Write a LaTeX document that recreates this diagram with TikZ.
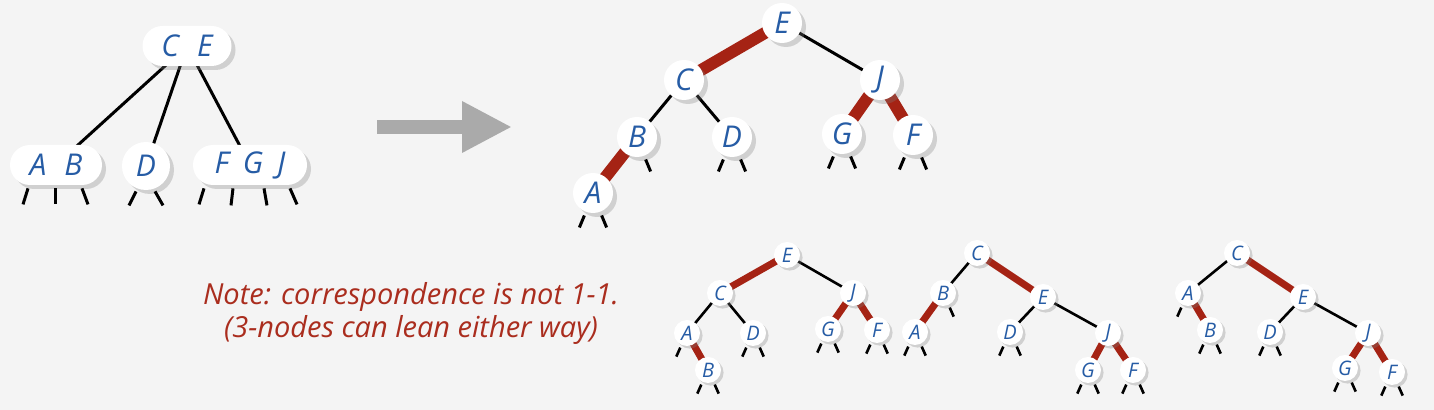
\documentclass[tikz,border=0pt]{standalone}
\usepackage{fontspec}
\setsansfont{Open Sans}
\usetikzlibrary{shadows,arrows.meta,calc}
\pgfdeclarelayer{bg}\pgfdeclarelayer{edges}\pgfsetlayers{bg,edges,main}
\definecolor{lblue}{RGB}{38,92,165}
\definecolor{lred}{RGB}{165,35,20}
\definecolor{nred}{RGB}{170,45,30}
\definecolor{bgc}{RGB}{244,244,244}
\definecolor{agray}{RGB}{170,170,170}
\newcommand\bstubL[1]{\draw[bblk] (#1.-115) ++(0,4) -- ++(-5,12);}
\newcommand\bstubR[1]{\draw[bblk] (#1.-65) ++(0,4) -- ++(5,12);}
\newcommand\sstubL[1]{\draw[sblk] (#1.-120) ++(0,3) -- ++(-4,9);}
\newcommand\sstubR[1]{\draw[sblk] (#1.-60) ++(0,3) -- ++(4,9);}
\begin{document}
\begin{tikzpicture}[x=0.5pt,y=-0.5pt,
  bnode/.style={circle,fill=white,minimum size=20pt,inner sep=0pt,
    font=\sffamily\itshape\fontsize{15}{15}\selectfont,text=lblue,
    drop shadow={opacity=0.3,shadow xshift=2pt,shadow yshift=-2pt}},
  snode/.style={circle,fill=white,minimum size=13pt,inner sep=0pt,
    font=\sffamily\itshape\fontsize{10}{10}\selectfont,text=lblue,
    drop shadow={opacity=0.3,shadow xshift=1.3pt,shadow yshift=-1.3pt}},
  pill/.style={rectangle,rounded corners=10pt,fill=white,minimum height=20pt,inner sep=0pt,
    font=\sffamily\itshape\fontsize{15}{15}\selectfont,text=lblue,
    drop shadow={opacity=0.3,shadow xshift=2pt,shadow yshift=-2pt}},
  bblk/.style={draw=black,line width=1.5pt},
  sblk/.style={draw=black,line width=1.3pt},
  bred/.style={draw=lred,line width=6pt},
  sred/.style={draw=lred,line width=3.5pt},
  note/.style={font=\sffamily\itshape\fontsize{14.5}{16.5}\selectfont,text=nred,align=center}]
\begin{pgfonlayer}{bg}
\fill[bgc] (0,0) rectangle (1434,410);
\end{pgfonlayer}
\useasboundingbox (0,0) rectangle (1434,410);

% left 2-3 tree
\node[pill,minimum width=44.5pt] (CE) at (187,46) {C\hspace{9pt}E};
\node[pill,minimum width=46pt] (AB) at (56,165) {A\hspace{9pt}B};
\node[bnode,minimum size=24pt] (D0) at (146,166) {D};
\node[pill,minimum width=57pt] (FGJ) at (250,165) {F\hspace{7pt}G\hspace{7pt}J};
\begin{pgfonlayer}{edges}
\draw[bblk] (CE.center) -- (AB.center);
\draw[bblk] (CE.center) -- (D0.center);
\draw[bblk] (CE.center) -- (FGJ.center);
\end{pgfonlayer}
\draw[bblk] (AB.south) ++(-28,3) -- ++(-5,16);
\draw[bblk] (AB.south) ++(-1,3) -- ++(0,16);
\draw[bblk] (AB.south) ++(26,3) -- ++(6,16);
\draw[bblk] (D0.south) ++(-10,1) -- ++(-7,14);
\draw[bblk] (D0.south) ++(9,1) -- ++(8,14);
\draw[bblk] (FGJ.south) ++(-46,3) -- ++(-5,16);
\draw[bblk] (FGJ.south) ++(-17,3) -- ++(-2,17);
\draw[bblk] (FGJ.south) ++(14,3) -- ++(3,17);
\draw[bblk] (FGJ.south) ++(40,3) -- ++(7,16);

% arrow
\coordinate (arrS) at (377,127);
\coordinate (arrE) at (512,127);
\draw[agray,line width=7pt,-{Triangle[length=25pt,width=24pt]}] (arrS) -- (arrE);

% big red-black tree
\node[bnode] (bE) at (782,23) {E};
\node[bnode] (bC) at (684,80) {C};
\node[bnode] (bJ) at (880,80) {J};
\node[bnode] (bB) at (637,137) {B};
\node[bnode] (bD) at (732,137) {D};
\node[bnode] (bG) at (842,134) {G};
\node[bnode] (bF) at (913,135) {F};
\node[bnode] (bA) at (593,193) {A};
\begin{pgfonlayer}{edges}
\draw[bred] (bE.center) -- (bC.center);
\draw[bblk] (bE.center) -- (bJ.center);
\draw[bblk] (bC.center) -- (bB.center);
\draw[bblk] (bC.center) -- (bD.center);
\draw[bred] (bJ.center) -- (bG.center);
\draw[bred] (bJ.center) -- (bF.center);
\draw[bred] (bB.center) -- (bA.center);
\end{pgfonlayer}
\bstubL{bA}\bstubR{bA}
\bstubR{bB}
\bstubL{bD}\bstubR{bD}
\bstubL{bG}\bstubR{bG}
\bstubL{bF}\bstubR{bF}

% note
\node[note] (note) at (411,313) {Note: correspondence is not 1-1.\\(3-nodes can lean either way)};

% small tree 1
\node[snode] (aE) at (787,255) {E};
\node[snode] (aC) at (720,293) {C};
\node[snode] (aJ) at (853,293) {J};
\node[snode] (aA) at (687,333) {A};
\node[snode] (aD) at (753,333) {D};
\node[snode] (aG) at (828,329) {G};
\node[snode] (aF) at (877,330) {F};
\node[snode] (aB) at (708,370) {B};
\begin{pgfonlayer}{edges}
\draw[sred] (aE.center) -- (aC.center);
\draw[sblk] (aE.center) -- (aJ.center);
\draw[sblk] (aC.center) -- (aA.center);
\draw[sblk] (aC.center) -- (aD.center);
\draw[sred] (aJ.center) -- (aG.center);
\draw[sred] (aJ.center) -- (aF.center);
\draw[sred] (aA.center) -- (aB.center);
\end{pgfonlayer}
\sstubL{aA}
\sstubL{aB}\sstubR{aB}
\sstubL{aD}\sstubR{aD}
\sstubL{aG}\sstubR{aG}
\sstubL{aF}\sstubR{aF}

% small tree 2
\node[snode] (cC) at (977,253) {C};
\node[snode] (cB) at (943,293) {B};
\node[snode] (cE) at (1043,297) {E};
\node[snode] (cA) at (915,332) {A};
\node[snode] (cD) at (1010,332) {D};
\node[snode] (cJ) at (1108,333) {J};
\node[snode] (cG) at (1088,370) {G};
\node[snode] (cF) at (1133,370) {F};
\begin{pgfonlayer}{edges}
\draw[sred] (cC.center) -- (cE.center);
\draw[sblk] (cC.center) -- (cB.center);
\draw[sred] (cB.center) -- (cA.center);
\draw[sblk] (cE.center) -- (cD.center);
\draw[sblk] (cE.center) -- (cJ.center);
\draw[sred] (cJ.center) -- (cG.center);
\draw[sred] (cJ.center) -- (cF.center);
\end{pgfonlayer}
\sstubR{cB}
\sstubL{cA}\sstubR{cA}
\sstubL{cD}\sstubR{cD}
\sstubL{cG}\sstubR{cG}
\sstubL{cF}\sstubR{cF}

% small tree 3
\node[snode] (dC) at (1237,253) {C};
\node[snode] (dA) at (1188,293) {A};
\node[snode] (dE) at (1303,297) {E};
\node[snode] (dB) at (1210,330) {B};
\node[snode] (dD) at (1270,332) {D};
\node[snode] (dJ) at (1368,333) {J};
\node[snode] (dG) at (1345,368) {G};
\node[snode] (dF) at (1392,372) {F};
\begin{pgfonlayer}{edges}
\draw[sred] (dC.center) -- (dE.center);
\draw[sblk] (dC.center) -- (dA.center);
\draw[sred] (dA.center) -- (dB.center);
\draw[sblk] (dE.center) -- (dD.center);
\draw[sblk] (dE.center) -- (dJ.center);
\draw[sred] (dJ.center) -- (dG.center);
\draw[sred] (dJ.center) -- (dF.center);
\end{pgfonlayer}
\sstubL{dA}
\sstubL{dB}\sstubR{dB}
\sstubL{dD}\sstubR{dD}
\sstubL{dG}\sstubR{dG}
\sstubL{dF}\sstubR{dF}
\end{tikzpicture}
\end{document}
